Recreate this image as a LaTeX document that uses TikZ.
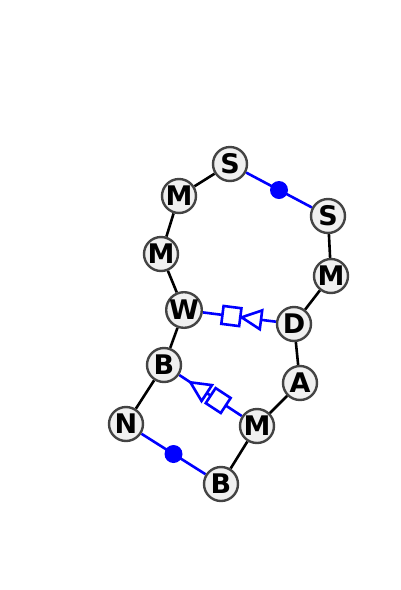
\documentclass[tikz,border=0pt]{standalone}
\usepackage{fontspec}
\setmainfont{DejaVu Sans}
\usetikzlibrary{calc,backgrounds}
\definecolor{nodefill}{HTML}{F0F0F0}
\definecolor{nodeline}{HTML}{444444}
\tikzset{
  base/.style={circle,draw=nodeline,line width=2.4pt,fill=nodefill,minimum size=34pt,inner sep=0pt,
    font=\fontsize{27}{27}\selectfont\bfseries},
  bond/.style={draw=black,line width=2.6pt},
  nc/.style={draw=blue,line width=2.6pt},
  ncdot/.style={circle,fill=blue,minimum size=18pt,inner sep=0pt},
  sqmark/.style={draw=blue,line width=2.6pt,fill=white,minimum size=18pt,inner sep=0pt,sloped},
  trimark/.style={draw=blue,line width=2.6pt,fill=white,line join=miter}
}
\begin{document}
\begin{tikzpicture}[x=1pt,y=-1pt]
\useasboundingbox (0,0) rectangle (400,590);
\node[base] (S1) at (230,164) {S};
\node[base] (M2) at (179,196) {M};
\node[base] (M3) at (161,254) {M};
\node[base] (W4) at (184,310) {W};
\node[base] (B5) at (164,365) {B};
\node[base] (N6) at (126,424) {N};
\node[base] (B7) at (221,484) {B};
\node[base] (M8) at (257,426) {M};
\node[base] (A9) at (300,383) {A};
\node[base] (D10) at (294,324) {D};
\node[base] (M11) at (331,276) {M};
\node[base] (S12) at (328,216) {S};
\begin{scope}[on background layer]
\draw[bond] (S1) -- (M2) -- (M3) -- (W4) -- (B5) -- (N6);
\draw[bond] (B7) -- (M8) -- (A9) -- (D10) -- (M11) -- (S12);
\draw[nc] (S1) -- (S12);
\draw[nc] (N6) -- (B7);
\draw[nc] (W4) -- (D10);
\draw[nc] (B5) -- (M8);
\end{scope}
\node[ncdot] (d1) at ($(S1)!0.5!(S12)$) {};
\node[ncdot] (d2) at ($(N6)!0.5!(B7)$) {};
% W-D marks
\path (W4) -- (D10) node[sqmark,pos=0.39] (sq1) {};
\coordinate (t1a) at ($(W4)!0.524!(D10)$);
\coordinate (t1b) at ($(W4)!0.70!(D10)$);
\draw[trimark] (t1a) -- ($(t1b)!9.5pt!90:(D10)$) -- ($(t1b)!9.5pt!-90:(D10)$) -- cycle;
% B-M marks
\path (B5) -- (M8) node[sqmark,pos=0.623] (sq2) {};
\coordinate (t2a) at ($(B5)!0.284!(M8)$);
\coordinate (t2b) at ($(B5)!0.46!(M8)$);
\draw[trimark] (t2a) -- ($(t2b)!9.5pt!90:(M8)$) -- ($(t2b)!9.5pt!-90:(M8)$) -- cycle;
\end{tikzpicture}
\end{document}
